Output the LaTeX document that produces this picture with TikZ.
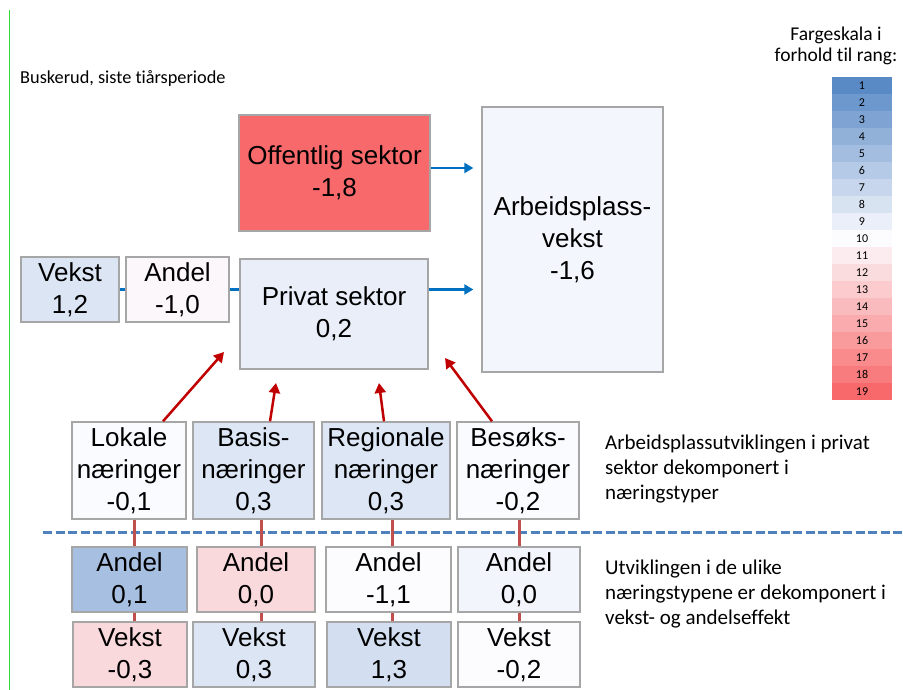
\documentclass[tikz,border=0pt]{standalone}
\usepackage{fontspec}
\setmainfont{Liberation Sans}
\newfontfamily\calfont[Ligatures=NoCommon]{Carlito}
\usetikzlibrary{arrows.meta}

\definecolor{boxgray}{HTML}{A6A6A6}
\definecolor{arrowblue}{HTML}{0070C0}
\definecolor{arrowred}{HTML}{C00000}
\definecolor{linkred}{HTML}{C0504D}
\definecolor{dashblue}{HTML}{4F81BD}
\definecolor{edgegreen}{HTML}{33DD33}
\definecolor{scaleblue}{HTML}{5A8AC6}
\definecolor{scalemid}{HTML}{FCFCFF}
\definecolor{scalered}{HTML}{F8696B}
\definecolor{rank9}{HTML}{F3F6FC}
\definecolor{rank8a}{HTML}{E9EEF8}
\definecolor{rank7}{HTML}{DCE5F3}
\definecolor{rank10}{HTML}{FBF7FA}
\definecolor{nearwhite}{HTML}{FAFBFE}
\definecolor{lightblue}{HTML}{DCE6F4}
\definecolor{midblue}{HTML}{A7BFE0}
\definecolor{lightpink}{HTML}{FAD9DD}
\definecolor{paleblue}{HTML}{F2F5FC}
\definecolor{paleblueb}{HTML}{D3DFF0}

\tikzset{
  box/.style={draw=boxgray, line width=1.4pt, inner sep=0pt, align=center,
    font=\fontsize{26}{32}\selectfont},
  note/.style={inner sep=0pt, align=left, font=\calfont\fontsize{21}{25}\selectfont},
  cell/.style={minimum width=60pt, minimum height=17pt, inner sep=0pt,
    font=\calfont\fontsize{12}{14}\selectfont},
  bluearrow/.style={draw=arrowblue, line width=2.5pt, -{Triangle[length=9pt,width=10pt]}},
  blueline/.style={draw=arrowblue, line width=2.5pt},
  redarrow/.style={draw=arrowred, line width=2.5pt, -{Triangle[length=10pt,width=11pt]}},
  link/.style={draw=linkred, line width=3pt}
}

\begin{document}
\begin{tikzpicture}[x=1pt, y=-1pt]
\useasboundingbox (0,0) rectangle (903,690);
\draw[edgegreen, line width=1pt] (9,10) -- (9,690);

\node[anchor=base west, inner sep=0pt, font=\calfont\fontsize{18.3}{22}\selectfont] (title) at (20,84) {Buskerud, siste tiårsperiode};

% top part
\node[box, fill=scalered, minimum width=191pt, minimum height=116pt] (offentlig) at (334.5,173) {Offentlig sektor\\-1,8};
\node[box, fill=rank9, minimum width=181pt, minimum height=265pt] (arbeid) at (572.5,239.5) {Arbeidsplass-\\vekst\\-1,6};
\node[box, fill=rank8a, minimum width=188pt, minimum height=110pt] (privat) at (334,314) {Privat sektor\\0,2};
\node[box, fill=rank7, minimum width=98pt, minimum height=65pt] (vekstP) at (70,289.5) {Vekst\\1,2};
\node[box, fill=rank10, minimum width=103pt, minimum height=65pt] (andelP) at (177.5,289.5) {Andel\\-1,0};

\coordinate (ofOut) at ([yshift=5pt]offentlig.east);
\draw[bluearrow, shorten >=8pt] (ofOut) -- (ofOut -| arbeid.west);
\draw[blueline] (vekstP.east) -- (andelP.west);
\draw[blueline] (andelP.east) -- (andelP.east -| privat.west);
\draw[bluearrow, shorten >=8pt] (andelP.east -| privat.east) -- (andelP.east -| arbeid.west);

% naeringstyper
\node[box, fill=nearwhite, minimum width=114pt, minimum height=97pt] (lokale) at (129,470.5) {Lokale\\næringer\\-0,1};
\node[box, fill=lightblue, minimum width=121pt, minimum height=97pt] (basis) at (253.5,470.5) {Basis-\\næringer\\0,3};
\node[box, fill=lightblue, minimum width=128pt, minimum height=97pt] (regional) at (386,470.5) {Regionale\\næringer\\0,3};
\node[box, fill=nearwhite, minimum width=122pt, minimum height=97pt] (besoks) at (518,470.5) {Besøks-\\næringer\\-0,2};

\coordinate (tipL) at (224,352);
\coordinate (tipB) at (276,383);
\coordinate (tipR) at (379,383);
\coordinate (tipS) at (445,358);
\draw[redarrow] ([xshift=34pt]lokale.north) -- (tipL);
\draw[redarrow] ([xshift=16.5pt]basis.north) -- (tipB);
\draw[redarrow] ([xshift=-2pt]regional.north) -- (tipR);
\draw[redarrow] ([xshift=-26pt]besoks.north) -- (tipS);

\draw[dashblue, line width=3pt, dash pattern=on 9pt off 3.5pt] (43,532) -- (903,532);

% andel og vekst
\node[box, fill=midblue, minimum width=115pt, minimum height=65pt] (andelL) at (129.5,579.5) {Andel\\0,1};
\node[box, fill=lightpink, minimum width=118pt, minimum height=65pt] (andelB) at (256,579.5) {Andel\\0,0};
\node[box, fill=scalemid, minimum width=125pt, minimum height=65pt] (andelR) at (388.5,579.5) {Andel\\-1,1};
\node[box, fill=paleblue, minimum width=122pt, minimum height=65pt] (andelS) at (519,579.5) {Andel\\0,0};
\node[box, fill=lightpink, minimum width=114pt, minimum height=65pt] (vekstL) at (130,654.5) {Vekst\\-0,3};
\node[box, fill=rank7, minimum width=122pt, minimum height=65pt] (vekstB) at (254,654.5) {Vekst\\0,3};
\node[box, fill=paleblueb, minimum width=124pt, minimum height=65pt] (vekstR) at (389,654.5) {Vekst\\1,3};
\node[box, fill=scalemid, minimum width=122pt, minimum height=65pt] (vekstS) at (519,654.5) {Vekst\\-0,2};

\coordinate (cL) at (134,0);
\coordinate (cB) at (261,0);
\coordinate (cR) at (392,0);
\coordinate (cS) at (519,0);
\draw[link] (lokale.south -| cL) -- (andelL.north -| cL) (andelL.south -| cL) -- (vekstL.north -| cL);
\draw[link] (basis.south -| cB) -- (andelB.north -| cB) (andelB.south -| cB) -- (vekstB.north -| cB);
\draw[link] (regional.south -| cR) -- (andelR.north -| cR) (andelR.south -| cR) -- (vekstR.north -| cR);
\draw[link] (besoks.south -| cS) -- (andelS.north -| cS) (andelS.south -| cS) -- (vekstS.north -| cS);

% notes
\node[note, anchor=north west] (note1) at (605,435) {Arbeidsplassutviklingen i privat\\sektor dekomponert i\\næringstyper};
\node[note, anchor=north west] (note2) at (605,560) {Utviklingen i de ulike\\næringstypene er dekomponert i\\vekst- og andelseffekt};

% fargeskala
\node[anchor=north, align=center, inner sep=0pt, font=\calfont\fontsize{19.5}{21}\selectfont] (scaletitle) at (836,27) {Fargeskala i\\forhold til rang:};
\foreach \i in {1,...,19}{
  \pgfmathtruncatemacro{\pb}{100*(10-\i)/9}
  \pgfmathtruncatemacro{\pr}{100*(\i-10)/9}
  \ifnum\i<11 \colorlet{cellc}{scaleblue!\pb!scalemid}\else \colorlet{cellc}{scalered!\pr!scalemid}\fi
  \node[cell, fill=cellc] (r\i) at (862,{68.5+17*\i}) {\i};
}
\end{tikzpicture}
\end{document}
